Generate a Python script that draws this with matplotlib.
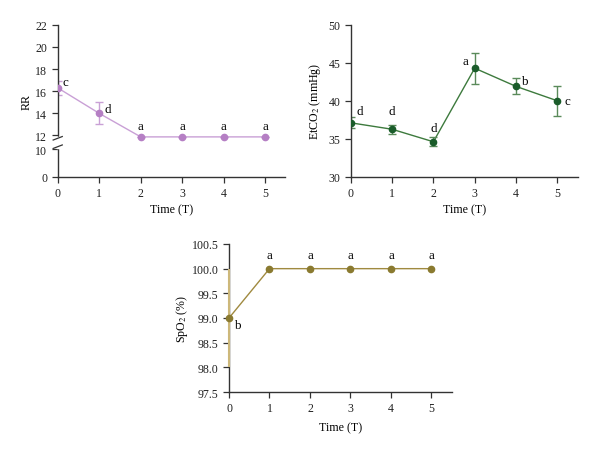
import numpy as np
import matplotlib
matplotlib.use("Agg")
import matplotlib.pyplot as plt
import matplotlib.transforms as mtransforms
from matplotlib.lines import Line2D

# ---------------- data ----------------
time_pts = [0, 1, 2, 3, 4, 5]
x_ticks = [0, 1, 2, 3, 4, 5]

rr_mean = [16.3, 14.0, 11.8, 11.8, 11.8, 11.8]
rr_err = [0.6, 1.0, 0.0, 0.0, 0.0, 0.0]
rr_letters = ["c", "d", "a", "a", "a", "a"]
rr_ticks = [0, 10, 12, 14, 16, 18, 20, 22]

et_mean = [37.1, 36.25, 34.6, 44.3, 41.9, 40.0]
et_err = [0.7, 0.6, 0.6, 2.05, 1.05, 2.0]
et_letters = ["d", "d", "d", "a", "b", "c"]
et_ticks = [30, 35, 40, 45, 50]

sp_mean = [99.0, 100.0, 100.0, 100.0, 100.0, 100.0]
sp_err = [1.0, 0.0, 0.0, 0.0, 0.0, 0.0]
sp_letters = ["b", "a", "a", "a", "a", "a"]
sp_ticks = [97.5, 98.0, 98.5, 99.0, 99.5, 100.0, 100.5]

plt.rcParams['font.family'] = ['Liberation Serif', 'DejaVu Serif']
plt.rcParams['mathtext.fontset'] = 'stix'
FS = 8.6
LFS = 9.4

fig = plt.figure(figsize=(6.0, 4.52), dpi=100)


def style(ax, xmax):
    ax.spines['top'].set_visible(False)
    ax.spines['right'].set_visible(False)
    for s in ['left', 'bottom']:
        ax.spines[s].set_linewidth(1.0)
        ax.spines[s].set_color('#333333')
    ax.tick_params(direction='out', length=4, width=0.9, labelsize=FS,
                   colors='#333333', pad=3.5)
    ax.tick_params(axis='x', labelcolor='#222222')
    ax.tick_params(axis='y', labelcolor='#222222')
    ax.set_xlim(0, xmax)
    ax.set_xticks(x_ticks)
    ax.set_xlabel("Time (T)", fontsize=FS, labelpad=3)


# ---------- RR (broken axis via piecewise function scale) ----------
def fwd(y):
    y = np.asarray(y, dtype=float)
    return np.where(y <= 10, y * 2.77,
                    np.where(y >= 12, 42.0 + (y - 12) * 11.3,
                             27.7 + (y - 10) * 7.15))


def inv(v):
    v = np.asarray(v, dtype=float)
    return np.where(v <= 27.7, v / 2.77,
                    np.where(v >= 42.0, 12 + (v - 42.0) / 11.3,
                             10 + (v - 27.7) / 7.15))


ax1 = fig.add_axes([0.0962, 0.607, 0.379, 0.336])
ax1.set_yscale('function', functions=(fwd, inv))
ax1.set_ylim(0, 22)
ax1.set_yticks(rr_ticks)
ax1.set_yticklabels([str(t) for t in rr_ticks])
ax1.yaxis.set_minor_locator(matplotlib.ticker.NullLocator())
style(ax1, 5.48)
ax1.set_ylabel("RR", fontsize=FS, labelpad=2)
ax1.plot(time_pts, rr_mean, color='#c9a0d6', lw=1.0, zorder=2)
ax1.errorbar(time_pts, rr_mean, yerr=rr_err, fmt='none', ecolor='#c9a0d6',
             elinewidth=1.0, capsize=3, capthick=1.0, zorder=2)
ax1.plot(time_pts, rr_mean, 'o', color='#b57fc4', ms=4.5, zorder=3)
rr_pos = [(0.12, 16.8, 'left'), (1.12, 14.4, 'left')] + [(x, 12.9, 'center') for x in time_pts[2:]]
for (x, y, ha), l in zip(rr_pos, rr_letters):
    ax1.text(x, y, l, fontsize=LFS, ha=ha, va='center')
# axis break: white gap + slashes
trans = mtransforms.blended_transform_factory(ax1.transAxes, ax1.transData)
ax1.add_line(Line2D([0, 0], [10.35, 11.65], transform=trans, color='white',
                    lw=2.5, clip_on=False, zorder=5))
for yb in [10.4, 11.6]:
    ax1.add_line(Line2D([-0.02, 0.02], [yb - 0.25, yb + 0.25], transform=trans,
                        color='#333333', lw=0.9, clip_on=False, zorder=6))

# ---------- EtCO2 ----------
ax2 = fig.add_axes([0.5845, 0.607, 0.379, 0.3355])
ax2.set_ylim(30, 50)
ax2.set_yticks(et_ticks)
style(ax2, 5.5)
ax2.set_ylabel(r"EtCO$_2$ (mmHg)", fontsize=FS, labelpad=4)
ax2.plot(time_pts, et_mean, color='#3d7a3d', lw=1.0, zorder=2)
ax2.errorbar(time_pts, et_mean, yerr=et_err, fmt='none', ecolor='#5a8a5a',
             elinewidth=1.0, capsize=3, capthick=1.0, zorder=2)
ax2.plot(time_pts, et_mean, 'o', color='#1a5c2a', ms=4.5, zorder=3)
et_pos = [(0.15, 38.7, 'left'), (1.0, 38.7, 'center'), (2.0, 36.4, 'center'),
          (2.85, 45.3, 'right'), (4.15, 42.6, 'left'), (5.18, 40.0, 'left')]
for (x, y, ha), l in zip(et_pos, et_letters):
    ax2.text(x, y, l, fontsize=LFS, ha=ha, va='center')

# ---------- SpO2 ----------
ax3 = fig.add_axes([0.3817, 0.1305, 0.371, 0.3275])
ax3.set_ylim(97.5, 100.5)
ax3.set_yticks(sp_ticks)
ax3.set_yticklabels([f"{t:.1f}" for t in sp_ticks])
style(ax3, 5.5)
ax3.xaxis.labelpad = 5
ax3.set_ylabel(r"SpO$_2$ (%)", fontsize=FS, labelpad=1.5)
ax3.plot(time_pts, sp_mean, color='#a08a40', lw=1.0, zorder=4, clip_on=False)
ax3.errorbar(time_pts, sp_mean, yerr=sp_err, fmt='none', ecolor='#cdb87a',
             elinewidth=1.5, capsize=0, zorder=4, clip_on=False)
ax3.plot(time_pts, sp_mean, 'o', color='#8a7a30', ms=4.5, zorder=5, clip_on=False)
sp_pos = [(0.14, 98.85, 'left')] + [(x, 100.27, 'center') for x in time_pts[1:]]
for (x, y, ha), l in zip(sp_pos, sp_letters):
    ax3.text(x, y, l, fontsize=LFS, ha=ha, va='center')

fig.savefig("out.png", dpi=100)
